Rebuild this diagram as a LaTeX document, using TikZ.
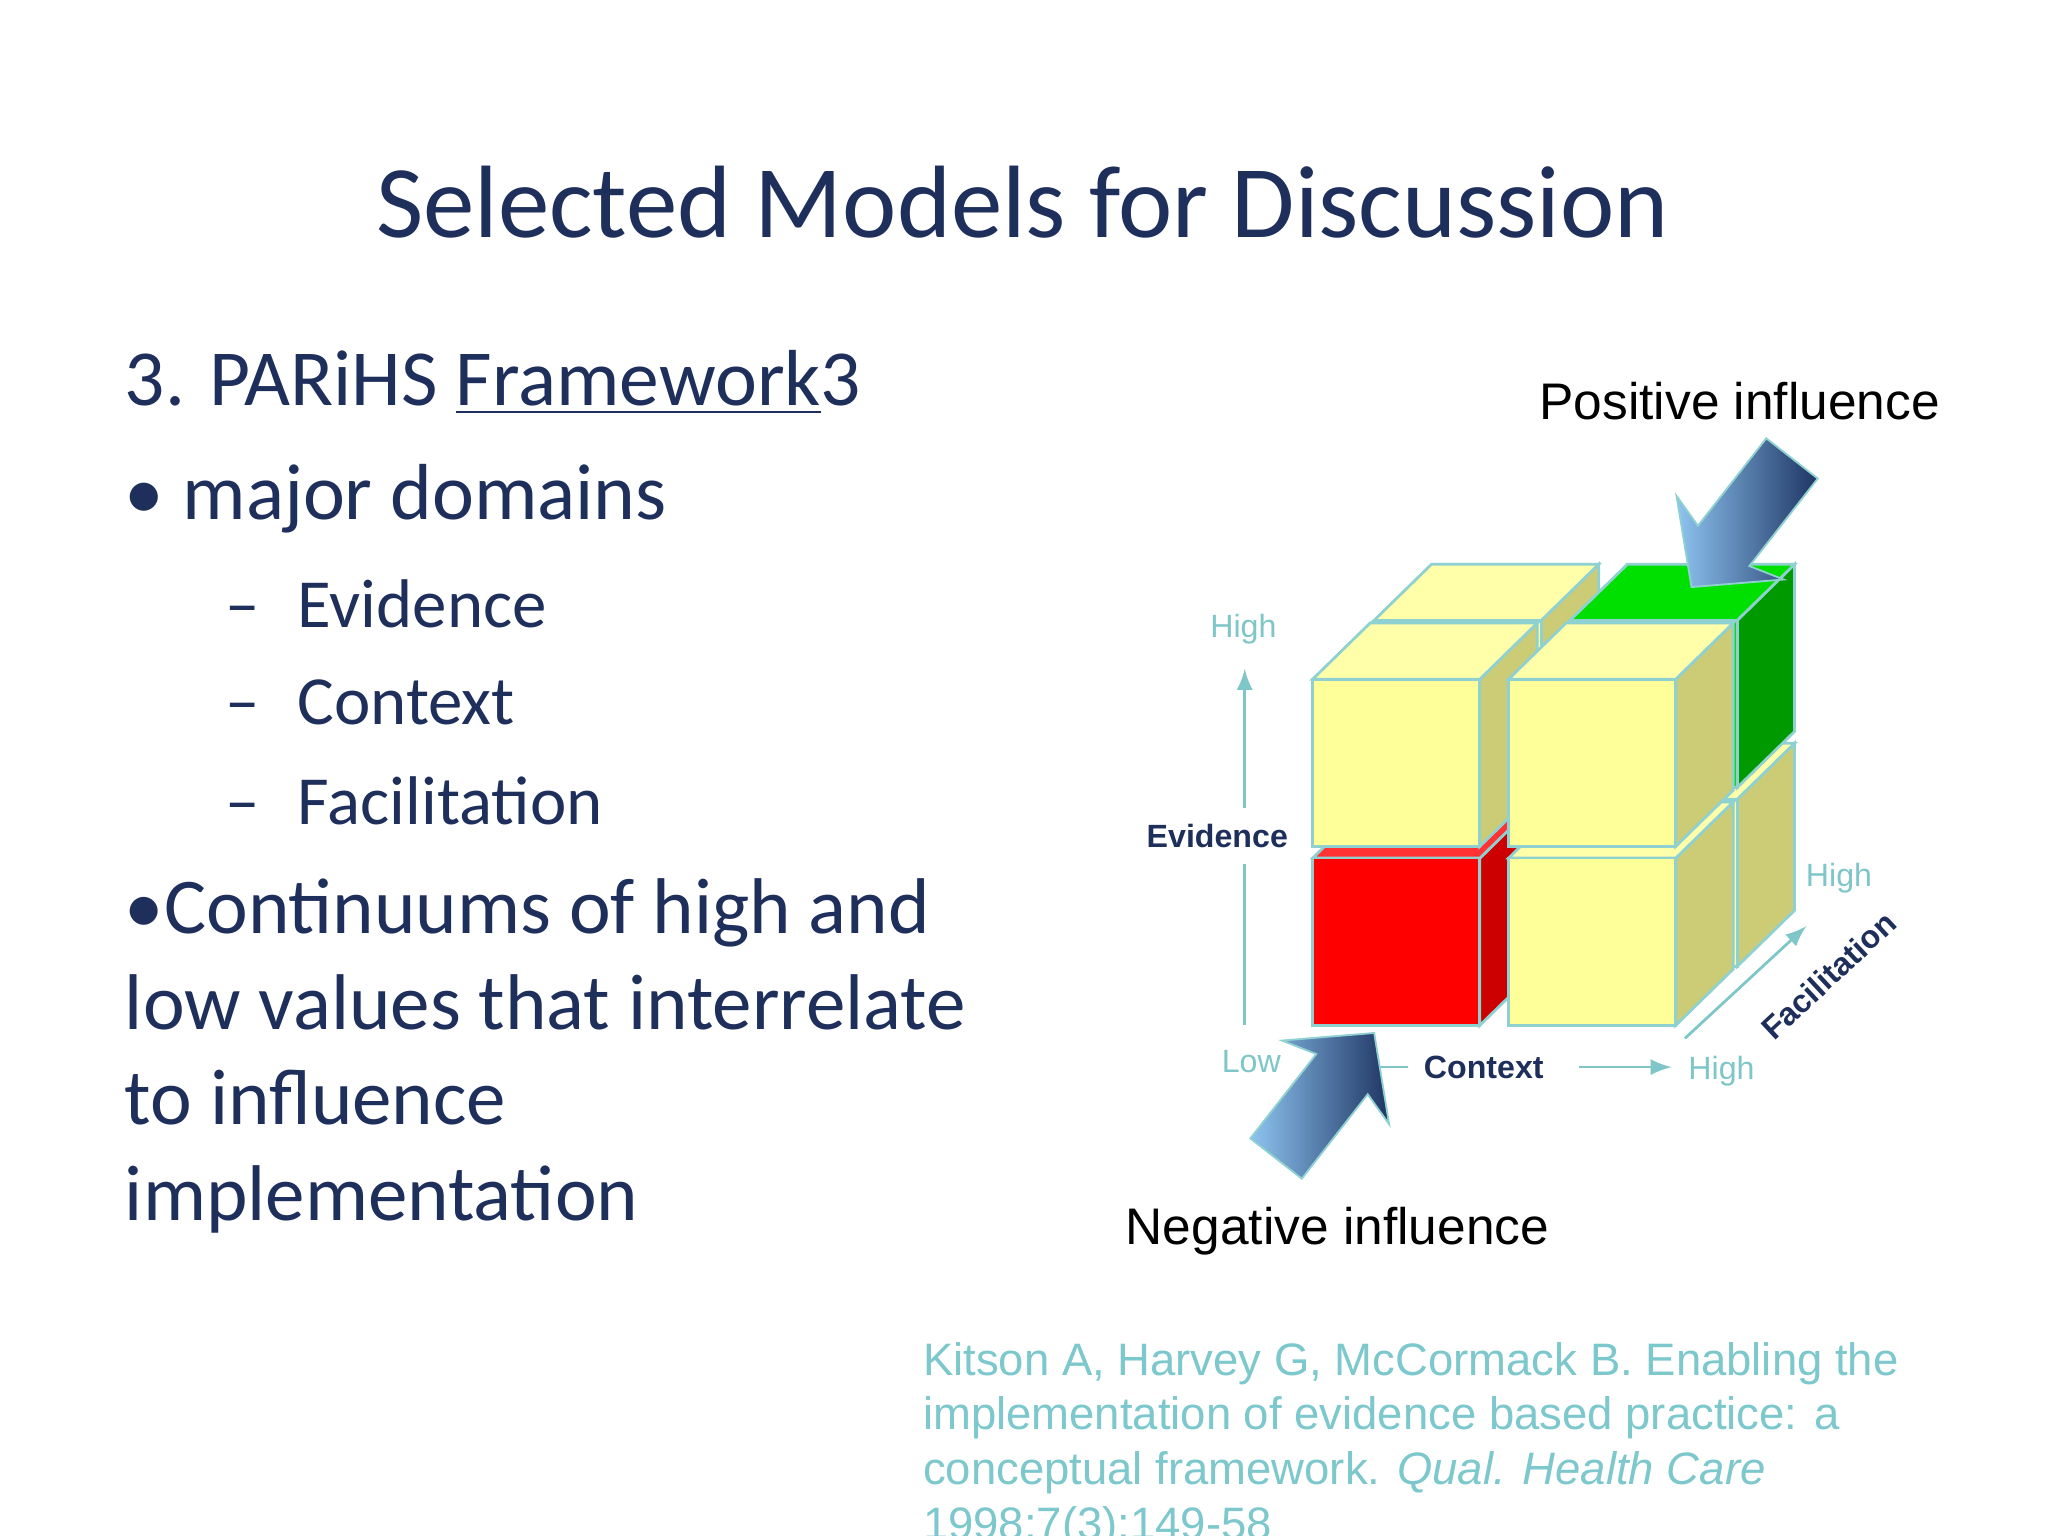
\documentclass[tikz,border=0pt]{standalone}
\usepackage{fontspec}
\setmainfont{Carlito}
\newfontfamily\arial{Liberation Sans}
\definecolor{navy}{HTML}{1F2F5C}
\definecolor{edge}{HTML}{8FD0D0}
\definecolor{axis}{HTML}{7EC6C8}
\definecolor{cite}{HTML}{7CC8CC}
\definecolor{yf}{HTML}{FFFF99}
\definecolor{ys}{HTML}{CCCC77}
\definecolor{yt}{HTML}{FFFFAA}
\definecolor{adark}{HTML}{1E3563}
\definecolor{alight}{HTML}{8EC4F0}
\newcommand\mycube[5]{%
\begin{scope}[shift={(#1,#2)}]
\filldraw[draw=edge,fill=#4,line width=0.6pt] (128,0)--(172,-43)--(172,85)--(128,128)--cycle;
\filldraw[draw=edge,fill=#5,line width=0.6pt] (0,0)--(44,-43)--(172,-43)--(128,0)--cycle;
\filldraw[draw=edge,fill=#3,line width=0.6pt] (0,0) rectangle (128,128);
\end{scope}}
\newcommand\bigarrow[4]{%
\begin{scope}[shift={(#1,#2)},rotate=#3]
\shade[left color=alight,right color=adark,draw=edge,line width=0.4pt]
 (0,-25)--(#4-40,-25)--(#4-48,-52)--(#4,0)--(#4-48,52)--(#4-40,25)--(0,25)--cycle;
\end{scope}}
\begin{document}
\begin{tikzpicture}[x=0.01cm,y=-0.01cm,
  ax/.style={draw=axis,line width=0.6pt},
  axl/.style={font=\arial\fontsize{7}{8}\selectfont,text=axis},
  bold/.style={font=\arial\bfseries\fontsize{7}{8}\selectfont,text=navy},
  lt/.style={anchor=west,inner sep=0pt,text=navy}]
\useasboundingbox (0,0) rectangle (1568,1176);
\fill[white] (0,0) rectangle (1568,1176);
\node[text=navy] (title) at (783,155) {\fontsize{22.4}{26}\selectfont Selected Models for Discussion};
\node[lt] (t1) at (95,293) {\fontsize{17.3}{20}\selectfont 3. PARiHS \underline{Framework}3};
\node[lt] (t2) at (95,382) {\fontsize{17.3}{20}\selectfont • major domains};
\node[lt] (t3) at (172,462) {\fontsize{15}{18}\selectfont –\hspace{0.55em}Evidence};
\node[lt] (t4) at (172,538) {\fontsize{15}{18}\selectfont –\hspace{0.55em}Context};
\node[lt] (t5) at (172,613) {\fontsize{15}{18}\selectfont –\hspace{0.55em}Facilitation};
\node[anchor=north west,align=left,inner sep=0pt,text=navy,font=\fontsize{17.2}{20.8}\selectfont] (t6) at (95,672) {•Continuums of high and\\low values that interrelate\\to influence\\implementation};
% cubes
\mycube{1052}{612}{yf}{ys}{yt}
\mycube{1202}{612}{yf}{ys}{yt}
\mycube{1052}{475}{yf}{ys}{yt}
\mycube{1202}{475}{green!80!black!90}{green!60!black}{green!80!black!60!green}
\mycube{1005}{657}{red}{red!80!black}{red!80!white}
\mycube{1155}{657}{yf}{ys}{yt}
\mycube{1005}{520}{yf}{ys}{yt}
\mycube{1155}{520}{yf}{ys}{yt}
% axes
\node[axl] (eh) at (952,482) {High};
\node[bold] (ev) at (932,640) {Evidence};
\node[axl] (lo) at (958,813) {Low};
\coordinate (e0) at (953,785);
\draw[ax,-latex] (ev.north -| e0) -- (953,512);
\draw[ax] (ev.south -| e0) -- (e0);
\node[bold] (cx) at (1136,817) {Context};
\node[axl] (ch) at (1318,820) {High};
\coordinate (c0) at (1005,817);
\draw[ax] (c0) -- (cx.west);
\draw[ax,-latex] (cx.east)+(15,0) -- (1280,817);
\coordinate (f0) at (1290,795);
\coordinate (f1) at (1383,709);
\draw[ax,-latex] (f0) -- (f1);
\node[bold,rotate=43] (fa) at (1400,747) {Facilitation};
\node[axl] (fh) at (1408,672) {High};
% arrows
\bigarrow{977}{887}{52}{122}
\bigarrow{1372}{351}{-128}{125}
\node (pos) at (1332,307) {\arial\fontsize{11.2}{13}\selectfont Positive influence};
\node (neg) at (1024,943) {\arial\fontsize{11.2}{13}\selectfont Negative influence};
\node[anchor=north west,align=left,inner sep=0pt,text=cite,font=\arial\fontsize{9.9}{11.9}\selectfont] (cit) at (706,1027) {Kitson A, Harvey G, McCormack B. Enabling the\\implementation of evidence based practice: a\\conceptual framework. \textit{Qual. Health Care}\\1998;7(3):149-58};
\end{tikzpicture}
\end{document}
